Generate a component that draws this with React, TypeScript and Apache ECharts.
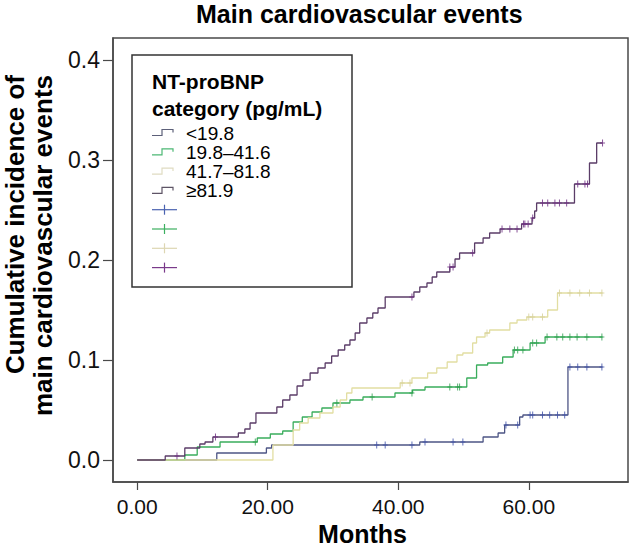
import React, { useEffect, useRef } from "react";
import * as echarts from "echarts";

// ---- Data ----
const titleText = "Main cardiovascular events";
const xAxisTitle = "Months";
const yAxisTitleLines = ["Cumulative incidence of", "main cardiovascular events"];
const legendTitleLines = ["NT-proBNP", "category (pg/mL)"];
const groupNames = ["<19.8", "19.8–41.6", "41.7–81.8", "≥81.9"];
const xTicks = [0, 20, 40, 60];
const yTicks = [0, 0.1, 0.2, 0.3, 0.4];

// Step curves: [month, cumulative incidence after the event]
const stepsLt19: [number, number][] = [
  [0, 0], [12.2, 0.007], [19.8, 0.012], [20.6, 0.015], [43.3, 0.018], [53.0, 0.023],
  [55.3, 0.027], [56.3, 0.035], [58.6, 0.043], [59.1, 0.045], [66.0, 0.093], [71.3, 0.093],
];
const steps19to41: [number, number][] = [
  [0, 0], [7.3, 0.005], [9.2, 0.013], [12.7, 0.018], [18.4, 0.022], [20.4, 0.026],
  [22.3, 0.029], [23.9, 0.038], [25.3, 0.043], [26.8, 0.048], [28.3, 0.052], [30.0, 0.057],
  [32.6, 0.06], [34.6, 0.063], [39.5, 0.067], [42.2, 0.07], [44.1, 0.073], [50.5, 0.082],
  [52.0, 0.095], [53.7, 0.097], [56.0, 0.103], [57.6, 0.11], [60.2, 0.117], [62.5, 0.123],
  [71.3, 0.123],
];
const steps41to81: [number, number][] = [
  [0, 0], [20.8, 0.015], [23.9, 0.03], [24.9, 0.037], [26.2, 0.042], [28.0, 0.047],
  [30.0, 0.053], [31.1, 0.06], [32.1, 0.067], [32.9, 0.072], [40.3, 0.077], [42.1, 0.082],
  [44.5, 0.087], [45.9, 0.092], [47.5, 0.098], [49.0, 0.105], [49.9, 0.107], [51.4, 0.117],
  [52.0, 0.123], [53.3, 0.127], [54.0, 0.13], [57.1, 0.137], [58.2, 0.14], [59.7, 0.143],
  [62.9, 0.15], [64.4, 0.167], [71.3, 0.167],
];
const stepsGe81: [number, number][] = [
  [0, 0], [4.3, 0.004], [7.3, 0.012], [9.6, 0.016], [10.4, 0.018], [11.6, 0.023],
  [15.5, 0.027], [16.5, 0.031], [17.3, 0.037], [18.2, 0.047], [21.4, 0.053], [22.3, 0.06],
  [23.4, 0.065], [24.5, 0.074], [25.4, 0.08], [26.5, 0.087], [27.7, 0.092], [28.8, 0.097],
  [29.8, 0.104], [30.8, 0.11], [31.8, 0.115], [32.6, 0.12], [33.4, 0.127], [34.1, 0.137],
  [35.2, 0.142], [36.1, 0.147], [36.9, 0.152], [38.0, 0.163], [42.4, 0.168], [43.3, 0.173],
  [44.4, 0.177], [45.2, 0.183], [45.9, 0.188], [47.9, 0.193], [48.7, 0.201], [49.4, 0.207],
  [51.7, 0.217], [53.0, 0.222], [54.0, 0.227], [55.6, 0.231], [58.9, 0.236], [60.5, 0.242],
  [60.9, 0.249], [61.2, 0.257], [67.0, 0.276], [69.3, 0.297], [70.4, 0.317], [71.3, 0.317],
];

// Censoring times (months)
const censorLt19 = [36.7, 38.0, 42.1, 44.1, 48.4, 49.9, 56.5, 58.3, 60.2, 60.6, 62.1, 63.2, 64.4, 65.5, 66.3, 67.5, 68.9, 71.2];
const censor19to41 = [18.1, 30.6, 36.0, 42.1, 47.9, 49.1, 49.4, 57.8, 58.3, 59.1, 60.6, 61.2, 62.8, 64.3, 65.2, 66.3, 67.4, 68.9, 71.2];
const censor41to81 = [40.6, 41.8, 53.6, 60.0, 60.6, 62.1, 64.7, 66.3, 67.8, 69.3, 71.2];
const censorGe81 = [6.1, 12.0, 42.1, 47.9, 48.4, 51.4, 55.9, 57.1, 58.2, 59.2, 59.4, 59.9, 60.6, 62.1, 62.9, 64.0, 64.7, 65.8, 67.5, 68.6, 69.0, 71.3];

const allSteps = [stepsLt19, steps19to41, steps41to81, stepsGe81];
const allCensors = [censorLt19, censor19to41, censor41to81, censorGe81];

// ---- Styles ----
const lineColors = ["#4d5585", "#3aad5c", "#e2dea2", "#5b3d68"];
const censorColors = ["#3c4fa6", "#2c9e4c", "#d6d098", "#6c2a80"];
const legendStepColors = ["#5c6079", "#4cb874", "#e0dcc2", "#5e5466"];
const legendCrossColors = ["#4a62b0", "#3cb060", "#ddd6b2", "#7a3a8a"];
const FONT = '"Liberation Sans", Arial, Helvetica, sans-serif';
const AXIS_COLOR = "#4a4a4a";

function valueAt(steps: [number, number][], t: number): number {
  let v = steps[0][1];
  for (const [st, sv] of steps) {
    if (st <= t) v = sv;
  }
  return v;
}

const PLUS = "path://M2,0 H3 V7 H2 Z M0,3 H5 V4 H0 Z";

export default function App() {
  const ref = useRef<HTMLDivElement>(null);
  useEffect(() => {
    if (!ref.current) return;
    const chart = echarts.init(ref.current, undefined, { renderer: "svg" });

    const series: any[] = [];
    groupNames.forEach((name, i) => {
      series.push({
        name,
        type: "line",
        step: "end",
        symbol: "none",
        data: allSteps[i],
        lineStyle: { color: lineColors[i], width: 1.3 },
        itemStyle: { color: lineColors[i] },
        z: 2 + i,
      });
    });
    groupNames.forEach((name, i) => {
      series.push({
        name: name + " censored",
        type: "scatter",
        symbol: PLUS,
        symbolSize: [5, 7],
        data: allCensors[i].map((t) => [t, valueAt(allSteps[i], t)]),
        itemStyle: { color: censorColors[i] },
        z: 6 + i,
      });
    });

    // Legend drawn as graphic
    const rowY = (k: number) => 132.5 + 19.3 * k;
    const legendChildren: any[] = [
      {
        type: "rect",
        shape: { x: 132, y: 55, width: 220, height: 232 },
        style: { fill: "#fff", stroke: "#333", lineWidth: 1.5 },
      },
      ...legendTitleLines.map((t, k) => ({
        type: "text",
        x: 152,
        y: 81 + 27 * k,
        style: { text: t, font: `bold 21px ${FONT}`, lineHeight: 24, fill: "#000", verticalAlign: "middle", align: "left" },
      })),
    ];
    groupNames.forEach((name, i) => {
      const cy = rowY(i);
      legendChildren.push({
        type: "polyline",
        shape: { points: [[152, cy + 3], [162, cy + 3], [162, cy - 3], [173, cy - 3], [173, cy]] },
        style: { stroke: legendStepColors[i], lineWidth: 1.2, fill: null },
      });
      legendChildren.push({
        type: "text",
        x: 186,
        y: cy + 0.5,
        style: { text: name, font: `19px ${FONT}`, lineHeight: 18, fill: "#000", verticalAlign: "middle", align: "left" },
      });
    });
    groupNames.forEach((_, i) => {
      const cy = rowY(4 + i);
      legendChildren.push({
        type: "line",
        shape: { x1: 152, y1: cy, x2: 177, y2: cy },
        style: { stroke: legendCrossColors[i], lineWidth: 1.2 },
      });
      legendChildren.push({
        type: "line",
        shape: { x1: 164.5, y1: cy - 5, x2: 164.5, y2: cy + 5 },
        style: { stroke: legendCrossColors[i], lineWidth: 1.2 },
      });
    });

    const yTitle = yAxisTitleLines.map((t, k) => ({
      type: "text",
      x: 15 + 28 * k,
      y: 75,
      rotation: Math.PI / 2,
      style: { text: t, font: `bold 26px ${FONT}`, lineHeight: 26, fill: "#000", align: "right", verticalAlign: "middle" },
    }));

    chart.setOption({
      animation: false,
      backgroundColor: "#fff",
      title: {
        text: titleText,
        left: 196,
        top: 2,
        padding: 0,
        textStyle: { fontSize: 25, lineHeight: 24, fontWeight: "bold", color: "#000", fontFamily: FONT },
      },
      grid: {
        left: 113,
        right: 4,
        top: 38,
        bottom: 66,
        outerBoundsMode: "none",
        containLabel: false,
        show: true,
        borderColor: AXIS_COLOR,
        borderWidth: 1.5,
        backgroundColor: "transparent",
      },
      xAxis: {
        type: "value",
        min: -3.7,
        max: 75.2,
        name: xAxisTitle,
        nameLocation: "middle",
        nameGap: 40,
        nameTextStyle: { fontSize: 25, lineHeight: 24, fontWeight: "bold", color: "#000", fontFamily: FONT, padding: [0, 16, 0, 0] },
        axisLine: { show: true, onZero: false, lineStyle: { color: AXIS_COLOR, width: 1.5 } },
        axisTick: { show: true, customValues: xTicks, length: 8, inside: false, lineStyle: { color: AXIS_COLOR, width: 1.2 } },
        axisLabel: {
          customValues: xTicks,
          formatter: (v: number) => v.toFixed(2),
          fontSize: 21,
          color: "#111",
          fontFamily: FONT,
          margin: 14,
        },
        splitLine: { show: false },
      },
      yAxis: {
        type: "value",
        min: -0.022,
        max: 0.422,
        axisLine: { show: true, onZero: false, lineStyle: { color: AXIS_COLOR, width: 1.5 } },
        axisTick: { show: true, customValues: yTicks, length: 10, inside: false, lineStyle: { color: AXIS_COLOR, width: 1.2 } },
        axisLabel: {
          customValues: yTicks,
          formatter: (v: number) => v.toFixed(1),
          fontSize: 23,
          color: "#111",
          fontFamily: FONT,
          margin: 13,
        },
        splitLine: { show: false },
      },
      graphic: [
        { type: "group", children: legendChildren },
        ...yTitle,
      ],
      series,
    });
    return () => chart.dispose();
  }, []);
  return (
    <div
      ref={ref}
      style={{ position: "fixed", left: 0, top: 0, width: 632, height: 548, background: "#fff" }}
    />
  );
}
